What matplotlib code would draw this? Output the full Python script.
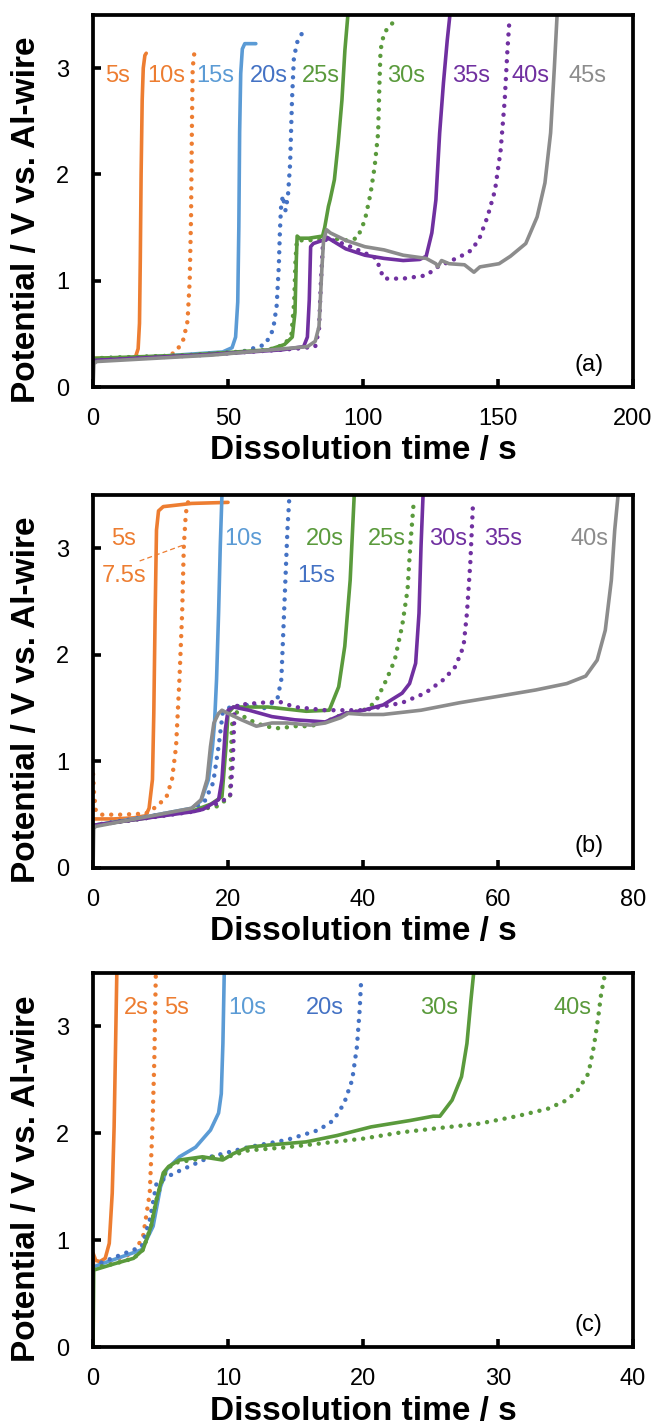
import matplotlib
matplotlib.use("Agg")
import matplotlib.pyplot as plt

plt.rcParams['font.family'] = ['Liberation Sans', 'DejaVu Sans']

# ---------------- colours ----------------
ORANGE = '#ED7D31'
BLUE_S = '#5B9BD5'
BLUE_D = '#4472C4'
GREEN = '#5A9A3C'
PURPLE = '#7030A0'
GRAY = '#8C8C8C'

# ---------------- panel (a) ----------------
t5a = [0, 5, 10, 14.5, 15.8, 16.7, 17.2, 17.5, 17.8, 18.2, 18.6, 19.2, 19.7]
v5a = [0.27, 0.27, 0.27, 0.27, 0.29, 0.36, 0.6, 1.2, 2.0, 2.7, 3.0, 3.12, 3.14]
t10a = [0, 10, 20, 28, 31, 33.5, 35.0, 35.8, 36.3, 36.6, 36.9, 37.5, 38.8]
v10a = [0.27, 0.27, 0.28, 0.29, 0.34, 0.45, 0.62, 1.0, 1.6, 2.4, 3.0, 3.14, 3.2]
t15a = [0, 25, 48, 51.5, 52.8, 53.6, 54.0, 54.3, 54.7, 55.3, 56.2, 60.3]
v15a = [0.25, 0.29, 0.33, 0.37, 0.47, 0.8, 1.5, 2.4, 2.95, 3.18, 3.23, 3.23]
t20a = [0, 30, 55, 63.8, 66.7, 68.0, 68.8, 69.2, 69.6, 70.3, 71.3, 72.2, 73.0, 73.7, 74.4, 75.8, 77.5]
v20a = [0.27, 0.29, 0.33, 0.40, 0.54, 0.76, 1.13, 1.45, 1.68, 1.80, 1.66, 1.80, 2.1, 2.7, 3.1, 3.26, 3.33]
t25a = [0, 35, 65, 70.9, 73.8, 74.8, 75.3, 75.6, 76.5, 80, 85.0, 85.8, 87.2, 87.8, 89.4, 90.8, 92.2, 93.3, 94.4]
v25a = [0.27, 0.30, 0.35, 0.40, 0.47, 0.7, 1.2, 1.42, 1.40, 1.40, 1.42, 1.5, 1.70, 1.76, 1.95, 2.29, 2.7, 3.17, 3.5]
t30a = [0, 35, 65, 71, 73.5, 74.5, 75.0, 75.5, 80, 88, 94, 97.9, 100.7, 102.8, 104.3, 105.6, 106.1, 106.5, 107.8, 110, 112.8]
v30a = [0.27, 0.30, 0.35, 0.40, 0.5, 0.8, 1.2, 1.38, 1.38, 1.40, 1.38, 1.40, 1.57, 1.82, 2.07, 2.39, 2.86, 3.17, 3.33, 3.4, 3.47]
t35a = [0, 40, 70, 78, 79.4, 80.1, 80.6, 81.6, 85.1, 86.5, 93.6, 100.7, 107.8, 114.9, 121, 123.4, 125.5, 127.0, 128.4, 129.8, 131.2, 132.2]
v35a = [0.25, 0.30, 0.35, 0.38, 0.47, 0.82, 1.32, 1.35, 1.38, 1.41, 1.30, 1.24, 1.21, 1.19, 1.20, 1.23, 1.45, 1.76, 2.39, 2.86, 3.26, 3.5]
t40a = [0, 40, 75, 82.3, 83.7, 84.4, 85.1, 86.5, 93.6, 100.7, 105.0, 106.4, 107.8, 114.9, 123.4, 127.7, 136.2, 140.4, 143.3, 146.1, 148.9, 151.0, 152.5, 153.5, 154.3]
v40a = [0.25, 0.30, 0.36, 0.38, 0.54, 0.98, 1.32, 1.40, 1.34, 1.26, 1.21, 1.10, 1.02, 1.02, 1.05, 1.13, 1.23, 1.29, 1.41, 1.60, 1.85, 2.23, 2.7, 3.17, 3.47]
t45a = [0, 0.3, 1.4, 44, 79.4, 82.3, 83.7, 84.8, 85.4, 86.5, 87.9, 93.6, 100.7, 107.8, 114.9, 123.4, 127.0, 127.7, 129.1, 131.9, 137.6, 141.1, 143.3, 150.4, 154.6, 160.3, 164.5, 167.4, 169.5, 170.9, 171.9]
v45a = [0.0, 0.22, 0.24, 0.30, 0.38, 0.43, 0.57, 1.13, 1.38, 1.48, 1.45, 1.38, 1.32, 1.29, 1.24, 1.21, 1.16, 1.13, 1.19, 1.16, 1.15, 1.08, 1.13, 1.16, 1.23, 1.35, 1.60, 1.92, 2.39, 3.01, 3.5]

labels_a = ['5s', '10s', '15s', '20s', '25s', '30s', '35s', '40s', '45s']
label_x_a = [4.3, 19.9, 38.3, 58.2, 77.3, 109, 133, 155, 176]
label_y_a = [2.93] * 9

# ---------------- panel (b) ----------------
t5b = [0, 3, 6, 7.8, 8.3, 8.8, 9.0, 9.2, 9.4, 9.7, 10.4, 14.6, 20.0]
v5b = [0.46, 0.46, 0.47, 0.49, 0.56, 0.83, 1.45, 2.39, 3.17, 3.35, 3.39, 3.42, 3.43]
t75b = [0, 0.15, 0.4, 1.0, 4, 7.8, 9.5, 10.9, 11.7, 12.3, 12.8, 13.2, 13.45, 13.75, 14.3]
v75b = [0.88, 0.70, 0.54, 0.50, 0.50, 0.51, 0.58, 0.67, 0.83, 1.14, 1.77, 2.39, 3.02, 3.33, 3.5]
t10b = [0, 7, 14.6, 16.0, 17.1, 17.7, 18.0, 18.3, 18.6, 18.85, 19.1]
v10b = [0.40, 0.47, 0.56, 0.63, 0.83, 1.14, 1.36, 1.77, 2.39, 3.02, 3.5]
t15b = [0, 7, 14.6, 16.5, 17.8, 18.6, 19.2, 20.3, 23.1, 25.4, 27.3, 27.9, 28.2, 28.5, 28.8, 29.05]
v15b = [0.40, 0.47, 0.55, 0.62, 0.8, 1.14, 1.45, 1.51, 1.53, 1.50, 1.58, 1.77, 2.23, 2.7, 3.17, 3.44]
t20b = [0, 7, 15, 17.5, 19.1, 19.7, 20.0, 20.8, 25.9, 31.6, 35.0, 36.4, 37.3, 38.1, 38.7]
v20b = [0.40, 0.46, 0.54, 0.60, 0.67, 1.14, 1.45, 1.51, 1.51, 1.47, 1.48, 1.70, 2.08, 2.70, 3.5]
t25b = [0, 7, 15, 18.5, 20.3, 20.55, 20.8, 23.1, 25.4, 27.6, 29.9, 32.2, 34.4, 37.3, 40.1, 41.8, 43.5, 44.7, 45.8, 46.6, 47.0, 47.5]
v25b = [0.40, 0.46, 0.54, 0.58, 0.67, 1.30, 1.48, 1.39, 1.33, 1.31, 1.33, 1.33, 1.37, 1.45, 1.48, 1.55, 1.77, 1.95, 2.27, 2.61, 3.02, 3.42]
t30b = [0, 7, 15, 16.3, 18.6, 19.1, 19.6, 20.0, 20.8, 23.1, 26.5, 29.9, 34.4, 37.3, 40.1, 43.0, 45.8, 46.9, 47.8, 48.3, 48.6, 48.9]
v30b = [0.40, 0.46, 0.53, 0.55, 0.64, 0.83, 1.30, 1.48, 1.51, 1.48, 1.42, 1.39, 1.37, 1.45, 1.48, 1.53, 1.64, 1.73, 1.92, 2.39, 3.02, 3.5]
t35b = [0, 7, 15, 17, 18.6, 20.3, 20.7, 20.95, 21.4, 24.8, 27.6, 29.9, 34.4, 40.1, 45.8, 49.2, 52.0, 53.7, 54.9, 55.4, 55.9, 56.3]
v35b = [0.40, 0.46, 0.53, 0.57, 0.61, 0.67, 0.98, 1.45, 1.53, 1.55, 1.56, 1.51, 1.48, 1.48, 1.55, 1.64, 1.77, 1.89, 2.08, 2.39, 2.86, 3.42]
t40b = [0, 0.1, 0.4, 14.6, 16.0, 16.9, 17.4, 17.9, 18.6, 19.1, 20.0, 22.0, 24.2, 26.5, 28.8, 32.2, 34.4, 36.7, 37.8, 40.1, 43.0, 48.6, 54.3, 60.0, 65.6, 70.2, 73.0, 74.7, 75.9, 76.8, 77.3, 77.8]
v40b = [0.0, 0.37, 0.39, 0.56, 0.64, 0.83, 1.14, 1.36, 1.45, 1.48, 1.45, 1.39, 1.33, 1.36, 1.36, 1.34, 1.36, 1.41, 1.45, 1.44, 1.44, 1.48, 1.55, 1.61, 1.67, 1.73, 1.80, 1.95, 2.23, 2.70, 3.17, 3.5]

labels_b = ['5s', '7.5s', '10s', '15s', '20s', '25s', '30s', '35s', '40s']
label_x_b = [2.7, 1.25, 19.4, 30.2, 31.6, 40.7, 49.8, 58.0, 70.8]
label_y_b = [3.09, 2.74, 3.09, 2.74, 3.09, 3.09, 3.09, 3.09, 3.09]
leader_b_x = [6.9, 13.4]
leader_b_y = [2.88, 3.03]

# ---------------- panel (c) ----------------
t2c = [0, 0.2, 0.5, 0.9, 1.2, 1.42, 1.56, 1.67, 1.76]
v2c = [0.88, 0.81, 0.80, 0.83, 0.97, 1.44, 2.06, 2.84, 3.5]
t5c = [0, 1.5, 3.0, 3.7, 4.2, 4.4, 4.54, 4.65]
v5c = [0.78, 0.81, 0.88, 1.03, 1.44, 2.06, 2.69, 3.5]
t10c = [0, 3.6, 4.45, 5.0, 5.45, 6.4, 7.6, 8.7, 9.3, 9.5, 9.62, 9.72]
v10c = [0.75, 0.91, 1.13, 1.5, 1.66, 1.78, 1.87, 2.03, 2.19, 2.37, 2.84, 3.5]
t20c = [0, 3.6, 4.2, 4.7, 5.9, 8.7, 11.5, 14.4, 16.7, 17.8, 18.6, 19.2, 19.55, 19.75, 19.85]
v20c = [0.76, 0.94, 1.19, 1.53, 1.62, 1.78, 1.87, 1.94, 2.03, 2.12, 2.28, 2.5, 2.81, 3.15, 3.4]
t30c = [0, 0.05, 1.6, 3.0, 3.7, 4.3, 4.7, 5.2, 5.6, 6.4, 8.1, 9.6, 10.4, 11.5, 13.0, 15.8, 18.1, 20.6, 23.5, 25.2, 25.7, 26.6, 27.3, 27.7, 28.0, 28.2]
v30c = [0.0, 0.72, 0.78, 0.83, 0.91, 1.13, 1.38, 1.63, 1.69, 1.75, 1.78, 1.75, 1.81, 1.87, 1.89, 1.92, 1.98, 2.06, 2.12, 2.16, 2.16, 2.31, 2.53, 2.84, 3.25, 3.5]
t40c = [0, 1.6, 3.0, 3.7, 4.3, 4.7, 5.2, 5.9, 8.7, 10.0, 11.5, 14.4, 17.2, 20.0, 22.9, 25.7, 28.6, 31.4, 33.7, 35.1, 35.9, 36.7, 37.1, 37.4, 37.65, 37.9]
v40c = [0.74, 0.78, 0.83, 0.91, 1.13, 1.38, 1.60, 1.72, 1.78, 1.78, 1.84, 1.87, 1.91, 1.95, 2.01, 2.05, 2.09, 2.16, 2.23, 2.31, 2.40, 2.56, 2.81, 3.06, 3.31, 3.47]

labels_c = ['2s', '5s', '10s', '20s', '30s', '40s']
label_x_c = [2.3, 5.3, 10.0, 15.8, 24.2, 34.1]
label_y_c = [3.17] * 6

y_ticks = [0, 1, 2, 3]
x_ticks_a = [0, 50, 100, 150, 200]
x_ticks_b = [0, 20, 40, 60, 80]
x_ticks_c = [0, 10, 20, 30, 40]

SOLID = '-'
DOTTED = (0, (0.01, 2.0))

series_a = [
    (t5a, v5a, ORANGE, SOLID), (t10a, v10a, ORANGE, DOTTED),
    (t15a, v15a, BLUE_S, SOLID), (t20a, v20a, BLUE_D, DOTTED),
    (t25a, v25a, GREEN, SOLID), (t30a, v30a, GREEN, DOTTED),
    (t35a, v35a, PURPLE, SOLID), (t40a, v40a, PURPLE, DOTTED),
    (t45a, v45a, GRAY, SOLID),
]
colors_a = [ORANGE, ORANGE, BLUE_S, BLUE_D, GREEN, GREEN, PURPLE, PURPLE, GRAY]

series_b = [
    (t5b, v5b, ORANGE, SOLID), (t75b, v75b, ORANGE, DOTTED),
    (t10b, v10b, BLUE_S, SOLID), (t15b, v15b, BLUE_D, DOTTED),
    (t20b, v20b, GREEN, SOLID), (t25b, v25b, GREEN, DOTTED),
    (t30b, v30b, PURPLE, SOLID), (t35b, v35b, PURPLE, DOTTED),
    (t40b, v40b, GRAY, SOLID),
]
colors_b = [ORANGE, ORANGE, BLUE_S, BLUE_D, GREEN, GREEN, PURPLE, PURPLE, GRAY]

series_c = [
    (t2c, v2c, ORANGE, SOLID), (t5c, v5c, ORANGE, DOTTED),
    (t10c, v10c, BLUE_S, SOLID), (t20c, v20c, BLUE_D, DOTTED),
    (t30c, v30c, GREEN, SOLID), (t40c, v40c, GREEN, DOTTED),
]
colors_c = [ORANGE, ORANGE, BLUE_S, BLUE_D, GREEN, GREEN]

TICK_FS = 17
LABEL_FS = 17


def draw_panel(ax, series, xmax, xticks, labels, lx, ly, lcolors, tag):
    for t, v, c, ls in series:
        if ls == SOLID:
            ax.plot(t, v, color=c, lw=2.6, solid_capstyle='round',
                    solid_joinstyle='round')
        else:
            ax.plot(t, v, color=c, lw=3.2, linestyle=ls,
                    dash_capstyle='round')
    for s, x, y, c in zip(labels, lx, ly, lcolors):
        ax.text(x, y, s, color=c, fontsize=LABEL_FS, ha='left', va='center')
    ax.set_xlim(0, xmax)
    ax.set_ylim(0, 3.5)
    ax.set_xticks(xticks)
    ax.set_yticks(y_ticks)
    ax.tick_params(direction='in', length=6, width=2.6, labelsize=TICK_FS,
                   top=False, right=False)
    ax.tick_params(axis='x', pad=15)
    ax.tick_params(axis='y', pad=17)
    for sp in ax.spines.values():
        sp.set_linewidth(2.7)
        sp.set_color('black')
    ax.set_xlabel('Dissolution time / s', fontsize=24, fontweight='bold')
    ax.set_ylabel('Potential / V vs. Al-wire', fontsize=24, fontweight='bold')
    ax.xaxis.set_label_coords(0.5, -0.13)
    ax.yaxis.set_label_coords(-0.094, 0.45)
    ax.text(0.918, 0.06, tag, transform=ax.transAxes, fontsize=TICK_FS,
            ha='center', va='center')


fig = plt.figure(figsize=(6.6, 14.25), dpi=100)
ax_a = fig.add_axes([0.141, 0.7284, 0.818, 0.2611])
ax_b = fig.add_axes([0.141, 0.3909, 0.818, 0.2618])
ax_c = fig.add_axes([0.141, 0.0547, 0.818, 0.2625])

draw_panel(ax_a, series_a, 200, x_ticks_a, labels_a, label_x_a, label_y_a, colors_a, '(a)')
draw_panel(ax_b, series_b, 80, x_ticks_b, labels_b, label_x_b, label_y_b, colors_b, '(b)')
ax_b.plot(leader_b_x, leader_b_y, color=ORANGE, lw=0.9, linestyle=(0, (4, 2.5)))
draw_panel(ax_c, series_c, 40, x_ticks_c, labels_c, label_x_c, label_y_c, colors_c, '(c)')

fig.savefig('out.png', dpi=100)
